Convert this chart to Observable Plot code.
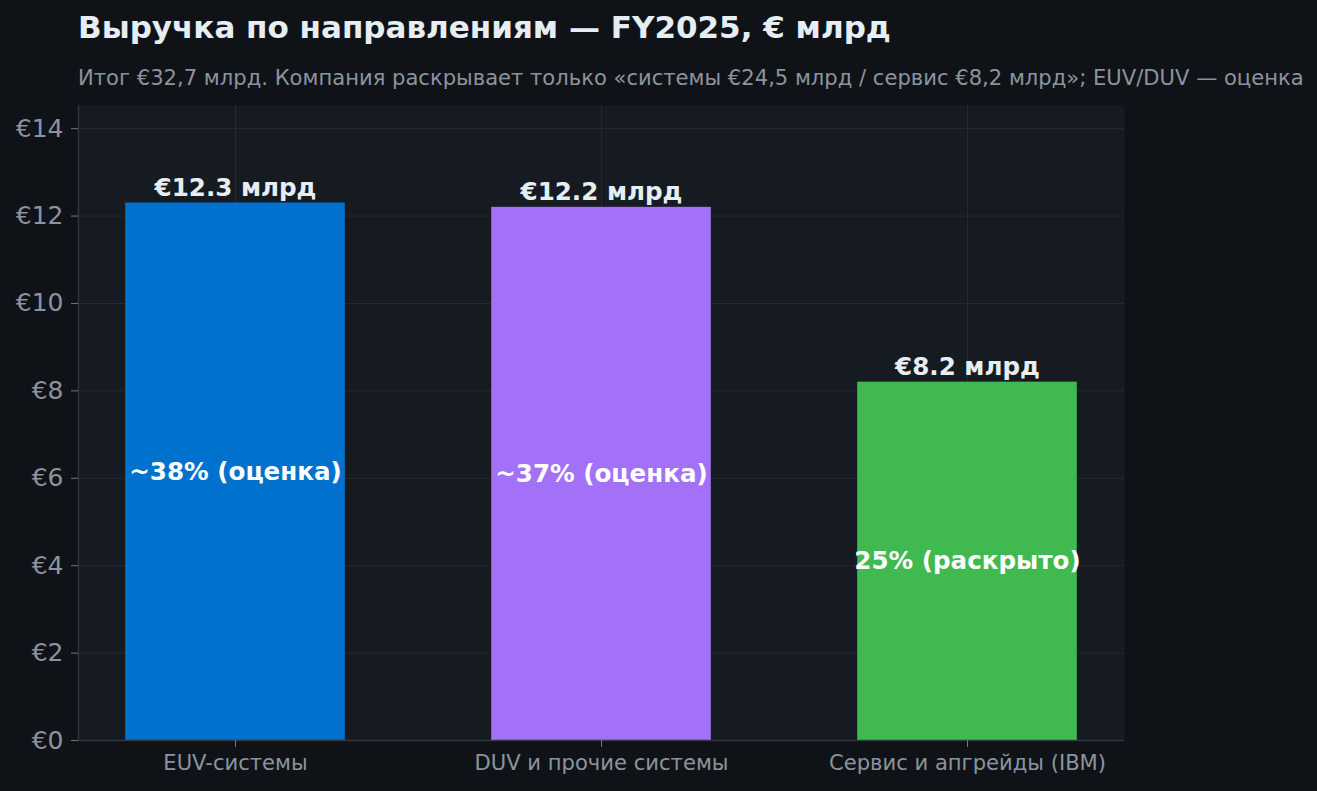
<!DOCTYPE html>
<html>
<head>
<meta charset="utf-8">
<script src="https://cdn.jsdelivr.net/npm/d3@7"></script>
<script src="https://cdn.jsdelivr.net/npm/@observablehq/plot@0.6"></script>
<style>
  html, body { margin: 0; padding: 0; background: #0f1318; }
  #wrap { width: 1317px; height: 791px; position: relative; overflow: hidden; font-family: "DejaVu Sans", sans-serif; }
  #head { position: relative; height: 95px; }
  #title { position: absolute; left: 78px; top: 12px; font-size: 31px; line-height: 1; font-weight: 700; color: #e6edf3; white-space: nowrap; }
  #subtitle { position: absolute; left: 78px; top: 67px; font-size: 21.1px; line-height: 1; color: #8b949e; white-space: nowrap; }
  svg { display: block; }
</style>
</head>
<body>
<div id="wrap">
  <div id="head">
    <div id="title">Выручка по направлениям — FY2025, € млрд</div>
    <div id="subtitle">Итог €32,7 млрд. Компания раскрывает только «системы €24,5 млрд / сервис €8,2 млрд»; EUV/DUV — оценка</div>
  </div>
  <div id="chart"></div>
</div>
<script>
const categories = ["EUV-системы", "DUV и прочие системы", "Сервис и апгрейды (IBM)"];
const values = [12.3, 12.2, 8.2];
const topLabels = ["€12.3 млрд", "€12.2 млрд", "€8.2 млрд"];
const innerLabels = ["~38% (оценка)", "~37% (оценка)", "25% (раскрыто)"];
const barColors = ["#0071cd", "#a371f7", "#40b950"];
const yTicks = [0, 2, 4, 6, 8, 10, 12, 14];

const data = categories.map((c, i) => ({cat: c, value: values[i], top: topLabels[i], inner: innerLabels[i]}));

const chart = Plot.plot({
  width: 1317,
  height: 696,
  marginTop: 10,
  marginBottom: 51,
  marginLeft: 78,
  marginRight: 193,
  style: {background: "transparent", fontFamily: "DejaVu Sans, sans-serif", overflow: "visible"},
  x: {domain: categories, paddingInner: 0.4, paddingOuter: 0.129, round: false, label: null},
  y: {domain: [0, 14.53], label: null},
  color: {domain: categories, range: barColors},
  marks: [
    Plot.frame({fill: "#161b22", stroke: null}),
    Plot.gridY(yTicks, {stroke: "#30363d", strokeOpacity: 0.55, strokeWidth: 1}),
    Plot.gridX(categories, {stroke: "#30363d", strokeOpacity: 0.55, strokeWidth: 1}),
    Plot.barY(data, {x: "cat", y: "value", fill: "cat"}),
    Plot.frame({anchor: "left", stroke: "#30363d", strokeWidth: 1.5}),
    Plot.ruleY([0], {stroke: "#30363d", strokeWidth: 1.5}),
    Plot.axisY(yTicks, {
      tickFormat: d => "€" + d,
      tickSize: 7, tickPadding: 8,
      fontSize: 25, fill: "#8b949e", stroke: "#6e7681", label: null
    }),
    Plot.axisX({
      tickSize: 7, tickPadding: 8,
      fontSize: 21.1, fill: "#8b949e", stroke: "#6e7681", label: null
    }),
    Plot.text(data, {
      x: "cat", y: "value", text: "top",
      lineAnchor: "bottom", dy: -7,
      fontSize: 24.6, fontWeight: "bold", fill: "#e6edf3"
    }),
    Plot.text(data, {
      x: "cat", y: d => d.value / 2, text: "inner",
      fontSize: 24.6, fontWeight: "bold", fill: "#ffffff"
    })
  ]
});
document.getElementById("chart").appendChild(chart);
</script>
</body>
</html>
